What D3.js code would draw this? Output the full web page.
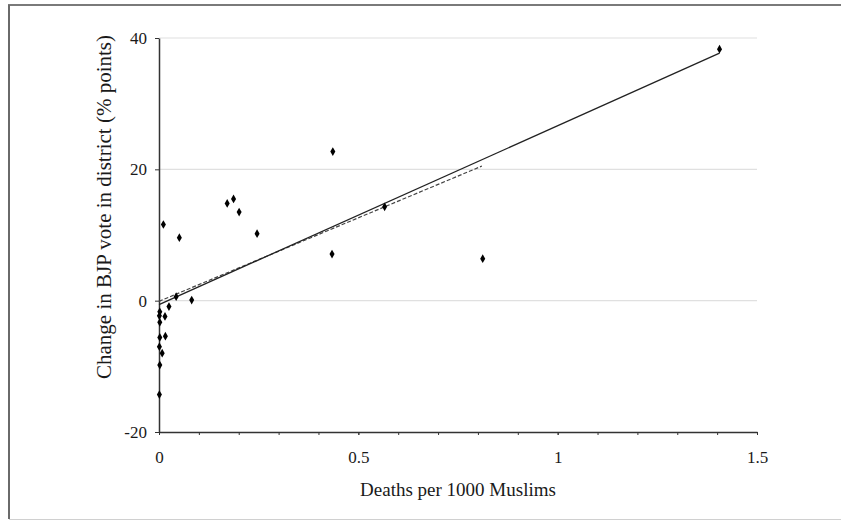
<!DOCTYPE html>
<html>
<head>
<meta charset="utf-8">
<script src="https://cdn.jsdelivr.net/npm/d3@7"></script>
<style>
  body { margin: 0; background: #fff; }
  svg { display: block; }
  text { font-family: "Liberation Serif", "Times New Roman", serif; fill: #1a1a1a; }
</style>
</head>
<body>
<svg id="chart" width="841" height="521"></svg>
<script>
// values
const deaths = [1.406, 0.436, 0.566, 0.434, 0.812, 0.011, 0.051, 0.171, 0.187, 0.201, 0.246,
  0.043, 0.082, 0.025, 0.002, 0.001, 0.015, 0.002, 0.002, 0.016, 0.001, 0.008, 0.002, 0.001];
const bjpChange = [38.3, 22.7, 14.3, 7.1, 6.4, 11.6, 9.6, 14.8, 15.5, 13.5, 10.2,
  0.6, 0.1, -0.9, -1.7, -2.3, -2.4, -3.3, -5.6, -5.4, -7.0, -8.0, -9.8, -14.3];

// fitted lines: all districts (solid), without the outlier (dashed)
const fitAllX = [0, 1.406];
const fitAllY = [-0.6, 37.7];
const fitTrimX = [0, 0.81];
const fitTrimY = [-0.1, 20.5];

const xTicks = [0, 0.5, 1, 1.5];
const xMinorTicks = d3.range(0, 1.51, 0.1);
const yTicks = [-20, 0, 20, 40];

const svg = d3.select("#chart");
const plotLeft = 159, plotRight = 757, plotTop = 38, plotBottom = 432;

const x = d3.scaleLinear().domain([0, 1.5]).range([plotLeft, plotRight]);
const y = d3.scaleLinear().domain([-20, 40]).range([plotBottom, plotTop]);

// scan frame
svg.append("line").attr("x1", 8).attr("x2", 841).attr("y1", 5).attr("y2", 5)
  .attr("stroke", "#7a7a7a").attr("stroke-width", 2);
svg.append("line").attr("x1", 9).attr("x2", 9).attr("y1", 5).attr("y2", 519)
  .attr("stroke", "#6a6a6a").attr("stroke-width", 2);
svg.append("line").attr("x1", 9).attr("x2", 841).attr("y1", 519.5).attr("y2", 519.5)
  .attr("stroke", "#d0d0d0").attr("stroke-width", 1);

// gridlines
svg.append("g")
  .selectAll("line")
  .data(yTicks.filter((d) => d > -20))
  .join("line")
  .attr("x1", plotLeft).attr("x2", plotRight)
  .attr("y1", (d) => y(d)).attr("y2", (d) => y(d))
  .attr("stroke", "#e0e0e0").attr("stroke-width", 1.2);

// minor x ticks
svg.append("g")
  .attr("transform", `translate(0,${plotBottom})`)
  .call(d3.axisBottom(x).tickValues(xMinorTicks).tickSize(3).tickFormat(""))
  .call((g) => g.select(".domain").remove())
  .call((g) => g.selectAll("line").attr("stroke", "#333"));

// plain hyphen for negatives, like the original
const fmt = (d) => String(d);

// x axis
const xAxis = svg.append("g")
  .attr("transform", `translate(0,${plotBottom})`)
  .call(d3.axisBottom(x).tickValues(xTicks).tickSize(3).tickSizeOuter(0).tickPadding(16)
    .tickFormat(fmt))
  .attr("font-family", null).attr("font-size", null);
xAxis.select(".domain").attr("stroke", "#333").attr("stroke-width", 1.5);
xAxis.selectAll("line").attr("stroke", "#333");
xAxis.selectAll("text").style("font-size", "17px").attr("fill", null);

// y axis
const yAxis = svg.append("g")
  .attr("transform", `translate(${plotLeft},0)`)
  .call(d3.axisLeft(y).tickValues(yTicks).tickSize(4).tickSizeOuter(0).tickPadding(8)
    .tickFormat(fmt))
  .attr("font-family", null).attr("font-size", null);
yAxis.select(".domain").attr("stroke", "#333").attr("stroke-width", 1.5);
yAxis.selectAll("line").attr("stroke", "#333");
yAxis.selectAll("text").style("font-size", "17px").attr("fill", null);

// axis titles
svg.append("text")
  .attr("x", (plotLeft + plotRight) / 2).attr("y", 496)
  .attr("text-anchor", "middle").style("font-size", "19px")
  .text("Deaths per 1000 Muslims");

svg.append("text")
  .attr("transform", "translate(111,207) rotate(-90)")
  .attr("text-anchor", "middle").style("font-size", "21px")
  .text("Change in BJP vote in district (% points)");

// regression lines
const line = d3.line().x((d) => x(d[0])).y((d) => y(d[1]));
svg.append("path")
  .datum(d3.zip(fitTrimX, fitTrimY))
  .attr("d", line)
  .attr("fill", "none").attr("stroke", "#444").attr("stroke-width", 1.2)
  .attr("stroke-dasharray", "4,2");
svg.append("path")
  .datum(d3.zip(fitAllX, fitAllY))
  .attr("d", line)
  .attr("fill", "none").attr("stroke", "#222").attr("stroke-width", 1.3);

// district markers
svg.append("g")
  .selectAll("path")
  .data(d3.zip(deaths, bjpChange))
  .join("path")
  .attr("transform", (d) => `translate(${x(d[0])},${y(d[1])})`)
  .attr("d", d3.symbol(d3.symbolDiamond, 22))
  .attr("fill", "#000");
</script>
</body>
</html>
